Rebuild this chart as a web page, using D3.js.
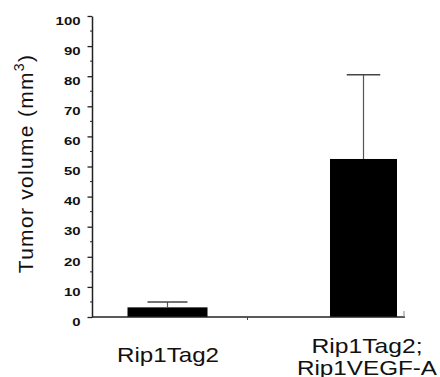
<!DOCTYPE html>
<html>
<head>
<meta charset="utf-8">
<style>
  body { margin: 0; background: #fff; }
  text { font-family: "Liberation Sans", Arial, sans-serif; fill: #111; }
</style>
</head>
<body>
<svg width="440" height="377"></svg>
<script src="https://d3js.org/d3.v7.min.js"></script>
<script>
// data
var categories = ["Rip1Tag2", "Rip1Tag2; Rip1VEGF-A"];
var labelLines = [["Rip1Tag2"], ["Rip1Tag2;", "Rip1VEGF-A"]];
var means = [3.2, 52.5];
var errors = [1.8, 28];
var yTicks = [0, 10, 20, 30, 40, 50, 60, 70, 80, 90, 100];

var svg = d3.select("svg");

// layout
var axisX = 92, axisRight = 405, axisY = 317, axisTop = 16;
var barW = [80, 67];
var labelW = {"Rip1Tag2": 102, "Rip1Tag2;": 111, "Rip1VEGF-A": 140};

var y = d3.scaleLinear().domain([0, 100]).range([axisY, axisTop]);
var x = d3.scalePoint().domain(categories).range([167.5, 363.5]);

var data = categories.map(function(c, i) {
  return {cat: c, mean: means[i], err: errors[i], w: barW[i], lines: labelLines[i]};
});

// bars
svg.selectAll("rect.bar")
    .data(data)
  .enter().append("rect")
    .attr("class", "bar")
    .attr("x", function(d) { return x(d.cat) - d.w / 2; })
    .attr("width", function(d) { return d.w; })
    .attr("y", function(d) { return y(d.mean); })
    .attr("height", function(d) { return y(0) - y(d.mean); })
    .attr("fill", "#000");

// error bars (upper only)
var eb = svg.selectAll("g.err").data(data).enter().append("g").attr("class", "err");
eb.append("line")
    .attr("x1", function(d) { return x(d.cat); })
    .attr("x2", function(d) { return x(d.cat); })
    .attr("y1", function(d) { return y(d.mean); })
    .attr("y2", function(d) { return y(d.mean + d.err); })
    .attr("stroke", "#555").attr("stroke-width", 1.2);
eb.append("line")
    .attr("x1", function(d) { return x(d.cat) - d.w / 4; })
    .attr("x2", function(d) { return x(d.cat) + d.w / 4; })
    .attr("y1", function(d) { return y(d.mean + d.err); })
    .attr("y2", function(d) { return y(d.mean + d.err); })
    .attr("stroke", "#444").attr("stroke-width", 1.5);

// y axis
var yAxis = svg.append("g")
    .attr("transform", "translate(" + axisX + ",0)")
    .call(d3.axisLeft(y).tickValues(yTicks).tickSize(4.5).tickSizeOuter(0).tickPadding(7));
yAxis.select(".domain").attr("stroke", "#222").attr("stroke-width", 1.5);
yAxis.selectAll(".tick line").attr("stroke", "#222").attr("stroke-width", 1.3);
yAxis.selectAll(".tick text")
    .attr("font-family", "'Liberation Sans', Arial, sans-serif")
    .attr("font-size", 11.5)
    .attr("font-weight", "bold")
    .attr("fill", "#111")
    .attr("dy", "0.72em")
    .attr("textLength", function(d) { return String(d).length * 8.3; })
    .attr("lengthAdjust", "spacingAndGlyphs");

// minor ticks at the fives
svg.append("g").selectAll("line")
    .data(d3.range(5, 100, 10))
  .enter().append("line")
    .attr("x1", axisX - 2).attr("x2", axisX)
    .attr("y1", function(d) { return y(d); })
    .attr("y2", function(d) { return y(d); })
    .attr("stroke", "#222").attr("stroke-width", 1);

// x axis
svg.append("line")
    .attr("x1", axisX).attr("x2", axisRight)
    .attr("y1", axisY).attr("y2", axisY)
    .attr("stroke", "#222").attr("stroke-width", 1.5);
svg.append("line")
    .attr("x1", 247.5).attr("x2", 247.5)
    .attr("y1", axisY).attr("y2", axisY + 3)
    .attr("stroke", "#444").attr("stroke-width", 1);
svg.append("line")
    .attr("x1", axisRight - 1).attr("x2", axisRight - 1)
    .attr("y1", axisY - 6).attr("y2", axisY)
    .attr("stroke", "#888").attr("stroke-width", 1);

// category labels, one text per line so textLength applies
var lab = svg.selectAll("g.cat").data(data).enter().append("g")
    .attr("class", "cat")
    .attr("transform", function(d, i) {
      var base = d.lines.length > 1 ? 353 : 362;
      return "translate(" + (x(d.cat) + (i ? 3.5 : 0.5)) + "," + base + ")";
    });
lab.selectAll("text")
    .data(function(d) { return d.lines; })
  .enter().append("text")
    .attr("text-anchor", "middle")
    .attr("font-size", 21)
    .attr("y", function(d, i) { return i * 22; })
    .attr("textLength", function(d) { return labelW[d]; })
    .attr("lengthAdjust", "spacingAndGlyphs")
    .text(function(d) { return d; });

// y axis title
var title = svg.append("text")
    .attr("transform", "translate(33,163.5) rotate(-90)")
    .attr("text-anchor", "middle")
    .attr("font-size", 21)
    .attr("letter-spacing", 1.3);
title.append("tspan").text("Tumor volume (mm");
title.append("tspan").attr("font-size", 14).attr("dy", -9).text("3");
title.append("tspan").attr("dy", 9).text(")");
</script>
</body>
</html>
